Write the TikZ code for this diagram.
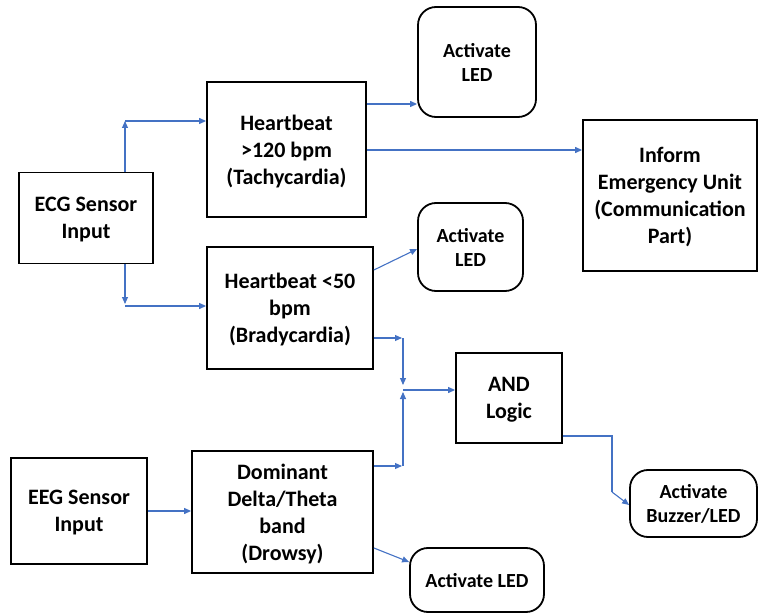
\documentclass[tikz,border=0pt]{standalone}
\usepackage{fontspec}
\setmainfont{Carlito}
\usetikzlibrary{arrows.meta}
\definecolor{linkblue}{RGB}{68,114,196}
\begin{document}
\begin{tikzpicture}[x=1pt,y=-1pt,
  box/.style={draw=black,line width=1.8pt,align=center,inner sep=2pt,
    font=\bfseries\fontsize{22}{27}\selectfont,text depth=0pt},
  ledbox/.style={box,rounded corners=18pt,font=\bfseries\fontsize{20}{24}\selectfont},
  arr/.style={draw=linkblue,line width=1.1pt,-{Triangle[length=7pt,width=6pt]}},
  wire/.style={draw=linkblue,line width=1.1pt}]
\useasboundingbox (0,0) rectangle (761,615);

% sensor inputs
\node[box,minimum width=134pt,minimum height=91pt] (ecg) at (86,218) {ECG Sensor\\Input};
\node[box,minimum width=136pt,minimum height=106pt] (eeg) at (79,511) {EEG Sensor\\Input};

% condition checks
\node[box,minimum width=159pt,minimum height=135pt] (tachy) at (286.5,149.5) {Heartbeat\\>120 bpm\\(Tachycardia)};
\node[box,minimum width=166pt,minimum height=122pt] (brady) at (290,308) {Heartbeat <50\\bpm\\(Bradycardia)};
\node[box,minimum width=181pt,minimum height=122pt] (dom) at (282.5,512) {Dominant\\Delta/Theta\\band\\(Drowsy)};

% outputs
\node[ledbox,minimum width=118pt,minimum height=110pt] (led1) at (477,62) {Activate\\LED};
\node[ledbox,minimum width=105pt,minimum height=88pt] (led2) at (470.5,247) {Activate\\LED};
\node[box,minimum width=174pt,minimum height=151pt] (inform) at (670,195.5) {Inform\\Emergency Unit\\(Communication\\Part)};
\node[box,minimum width=106pt,minimum height=90pt] (andl) at (509,398) {AND\\Logic};
\node[ledbox,minimum width=127pt,minimum height=67pt] (buzz) at (693.5,503.5) {Activate\\Buzzer/LED};
\node[ledbox,minimum width=134pt,minimum height=64pt] (led3) at (477,580) {Activate LED};

% junction points
\coordinate (jt) at (125,121);
\coordinate (jb) at (125,306);
\coordinate (jm) at (403,390);
\coordinate (jr) at (612,436);

% ECG branches
\draw[arr] (ecg.north -| jt) -- (jt);
\draw[arr] (jt) -- (jt -| tachy.west);
\draw[arr] (ecg.south -| jb) -- ([yshift=2pt]jb);
\draw[arr] (jb) -- (jb -| brady.west);

% tachycardia outputs
\draw[arr] ([yshift=45.5pt]tachy.east) -- ([yshift=45.5pt]tachy.east -| led1.west);
\draw[arr] ([yshift=-0.5pt]tachy.east) -- ([yshift=-0.5pt]tachy.east -| inform.west);

% bradycardia outputs
\draw[arr] ([yshift=38pt]brady.east) -- ([yshift=-2pt]led2.west);
\draw[arr] ([yshift=-30pt]brady.east) -- ([yshift=-30pt,xshift=-1pt]brady.east -| jm);
\draw[arr] ([yshift=-30pt]brady.east -| jm) -- ([yshift=5pt]jm);

% EEG path
\draw[arr] (eeg.east) -- (eeg.east -| dom.west);
\draw[arr] ([yshift=46pt]dom.east) -- ([yshift=46pt,xshift=-1pt]dom.east -| jm);
\draw[arr] ([yshift=46pt]dom.east -| jm) -- ([yshift=-2pt]jm);
\draw[arr] ([yshift=-36pt]dom.east) -- ([yshift=18pt]led3.west);

% AND logic
\draw[arr] (jm) -- (jm -| andl.west);
\draw[wire] ([yshift=-38pt]andl.east) -- (jr) -- (612,492);
\draw[arr] (612,492) -- ([yshift=-1.5pt]buzz.west);
\end{tikzpicture}
\end{document}
